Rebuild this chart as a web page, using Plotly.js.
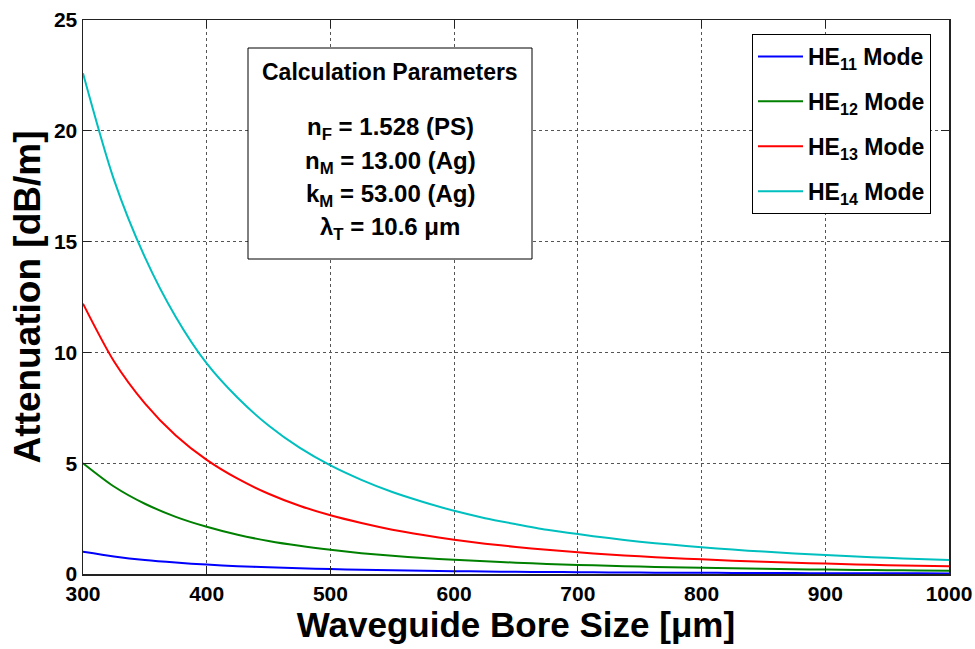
<!DOCTYPE html>
<html>
<head>
<meta charset="utf-8">
<script src="https://cdn.plot.ly/plotly-3.0.1.min.js"></script>
<style>html,body{margin:0;padding:0;background:#fff;}#chart{width:975px;height:649px;}</style>
</head>
<body>
<div id="chart"></div>
<script>
const boreSize = [300, 325, 350, 375, 400, 425, 450, 475, 500, 525, 550, 575, 600, 625, 650, 675, 700, 725, 750, 775, 800, 825, 850, 875, 900, 925, 950, 975, 1000];
const he11 = [1.00, 0.79, 0.63, 0.515, 0.425, 0.355, 0.30, 0.255, 0.22, 0.19, 0.165, 0.145, 0.128, 0.113, 0.100, 0.090, 0.080, 0.072, 0.065, 0.059, 0.054, 0.049, 0.045, 0.041, 0.038, 0.035, 0.032, 0.030, 0.028];
const he12 = [5.00, 3.95, 3.17, 2.58, 2.13, 1.77, 1.49, 1.27, 1.09, 0.94, 0.82, 0.72, 0.64, 0.57, 0.51, 0.455, 0.41, 0.37, 0.335, 0.305, 0.28, 0.255, 0.235, 0.215, 0.20, 0.185, 0.17, 0.16, 0.15];
const he13 = [12.2, 9.6, 7.7, 6.25, 5.15, 4.3, 3.62, 3.08, 2.65, 2.30, 2.00, 1.76, 1.55, 1.37, 1.22, 1.09, 0.98, 0.88, 0.80, 0.72, 0.66, 0.60, 0.55, 0.51, 0.47, 0.43, 0.40, 0.37, 0.35];
const he14 = [22.6, 17.8, 14.3, 11.6, 9.5, 7.95, 6.7, 5.7, 4.9, 4.25, 3.7, 3.25, 2.85, 2.52, 2.25, 2.00, 1.80, 1.62, 1.46, 1.33, 1.21, 1.10, 1.01, 0.93, 0.86, 0.79, 0.73, 0.68, 0.63];
const seriesNames = ['HE<sub>11</sub> Mode', 'HE<sub>12</sub> Mode', 'HE<sub>13</sub> Mode', 'HE<sub>14</sub> Mode'];
const seriesColors = ['#0000FF', '#008000', '#FF0000', '#00BFBF'];
const xTicks = [300, 400, 500, 600, 700, 800, 900, 1000];
const yTicks = [0, 5, 10, 15, 20, 25];
const paramTitle = 'Calculation Parameters';
const paramLines = ['n<sub>F</sub> = 1.528 (PS)', 'n<sub>M</sub> = 13.00 (Ag)', 'k<sub>M</sub> = 53.00 (Ag)', 'λ<sub>T</sub> = 10.6 μm'];

const F = 'Arial, "Liberation Sans", Helvetica, sans-serif';
const allY = [he11, he12, he13, he14];
const traces = allY.map((y, i) => ({
  x: boreSize, y: y, type: 'scatter', mode: 'lines',
  name: seriesNames[i], legendgroup: 'g' + i,
  line: {color: seriesColors[i], width: 2, shape: 'spline', smoothing: 0.8}
}));

const L = 83, R = 949, T = 20, B = 574;
const W = R - L, H = B - T;
const px = v => (v - L) / W;
const py = v => (B - v) / H;

const annotations = [{
  text: '<b>' + paramTitle + '</b>', xref: 'paper', yref: 'paper',
  x: px(390), y: py(72), xanchor: 'center', yanchor: 'middle', showarrow: false,
  font: {family: F, size: 23, color: '#000'}
}];
const lineY = [128, 162, 195, 228];
paramLines.forEach((t, i) => annotations.push({
  text: '<b>' + t + '</b>', xref: 'paper', yref: 'paper',
  x: px(390), y: py(lineY[i]), xanchor: 'center', yanchor: 'middle', showarrow: false,
  font: {family: F, size: 24, color: '#000'}
}));

const layout = {
  width: 975, height: 649,
  margin: {l: L, r: 975 - R, t: T, b: 649 - B},
  paper_bgcolor: '#fff', plot_bgcolor: '#fff',
  showlegend: true,
  legend: {
    x: px(752), y: py(34), xanchor: 'left', yanchor: 'top',
    bgcolor: '#fff', bordercolor: '#000', borderwidth: 1,
    font: {family: F, size: 23, color: '#000', weight: 'bold'},
    traceorder: 'grouped', tracegroupgap: 12,
    itemwidth: 45
  },
  xaxis: {
    range: [300, 1000], tickvals: xTicks, ticktext: xTicks.map(String),
    showgrid: true, gridcolor: '#555', griddash: 'dot', gridwidth: 1,
    zeroline: false, showline: true, linecolor: '#222', linewidth: 1.5, mirror: 'ticks',
    ticks: 'inside', ticklen: 8, tickcolor: '#222',
    tickfont: {family: F, size: 21, color: '#000', weight: 'bold'},
    title: {text: '<b>Waveguide Bore Size [μm]</b>', font: {family: F, size: 35, color: '#000'}, standoff: 3}
  },
  yaxis: {
    range: [0, 25], tickvals: yTicks, ticktext: yTicks.map(String),
    showgrid: true, gridcolor: '#555', griddash: 'dot', gridwidth: 1,
    zeroline: false, showline: true, linecolor: '#222', linewidth: 1.5, mirror: 'ticks',
    ticks: 'inside', ticklen: 8, tickcolor: '#222',
    tickfont: {family: F, size: 21, color: '#000', weight: 'bold'},
    title: {text: '<b>Attenuation [dB/m]</b>', font: {family: F, size: 37, color: '#000'}, standoff: 2}
  },
  shapes: [{
    type: 'rect', xref: 'paper', yref: 'paper',
    x0: px(248), x1: px(532), y0: py(259), y1: py(48),
    line: {color: '#000', width: 1}, fillcolor: '#fff', layer: 'above'
  }],
  annotations: annotations
};

Plotly.newPlot('chart', traces, layout, {displayModeBar: false, staticPlot: true});
</script>
</body>
</html>
